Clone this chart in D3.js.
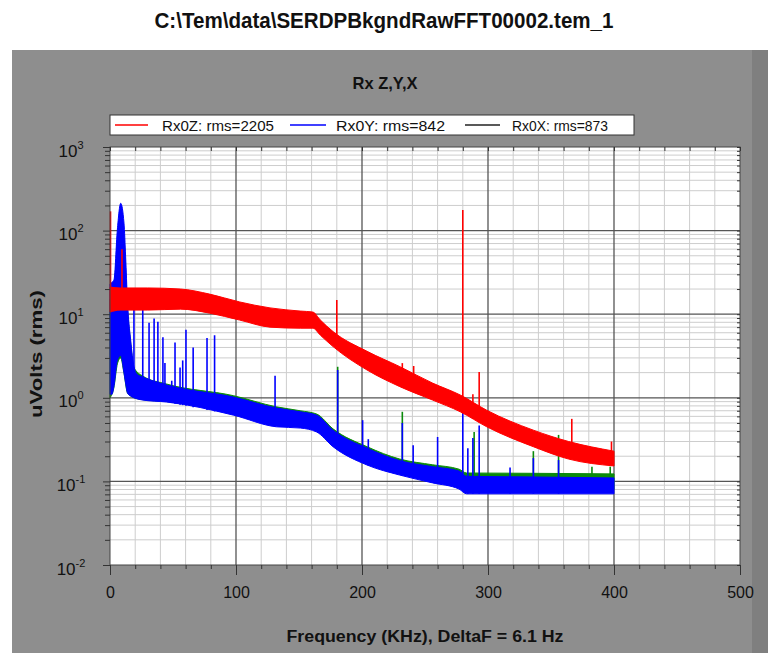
<!DOCTYPE html>
<html>
<head>
<meta charset="utf-8">
<script src="https://cdn.jsdelivr.net/npm/d3@7"></script>
<style>
  body { margin: 0; background: #ffffff; }
  svg { display: block; }
</style>
</head>
<body>
<svg id="chart" width="768" height="653"></svg>
<script>
// ---- Noise-floor bands: frequency (kHz), upper and lower edge (uVolts rms) ----
const zFreq = [0, 8, 30, 56, 79, 103, 127, 151, 161, 167, 177, 204, 230, 256, 278, 299, 336, 364, 400];
const zHigh = [21.1, 20.6, 20.6, 20.0, 17.4, 14.0, 11.9, 10.9, 10.6, 8.5, 6.2, 3.6, 2.36, 1.50, 1.08, 0.71, 0.41, 0.30, 0.23];
const zLow  = [10.6, 11.2, 11.2, 11.5, 10.3, 8.5, 7.0, 6.8, 6.8, 5.6, 4.1, 2.15, 1.36, 0.94, 0.68, 0.45, 0.26, 0.185, 0.153];

const yFreq = [0, 1.5, 3.2, 5.8, 8.5, 11.1, 12.4, 13.8, 16.4, 19, 21.7, 26, 45, 98, 132, 151, 164, 177, 204, 230, 256, 277, 283, 336, 400];
const yHigh = [23, 24, 26, 101, 212, 123, 49, 14.8, 4.9, 2.35, 1.9, 1.77, 1.42, 1.02, 0.755, 0.68, 0.62, 0.41, 0.25, 0.177, 0.15, 0.133, 0.115, 0.113, 0.11];
const yLow  = [1.1, 1.1, 1.4, 2.8, 3.2, 2.0, 1.5, 1.15, 1.05, 1.0, 0.97, 0.94, 0.89, 0.62, 0.45, 0.435, 0.39, 0.26, 0.157, 0.119, 0.096, 0.081, 0.071, 0.071, 0.071];

const xFreq = [0, 3, 6, 8.5, 11, 13.8, 16.4, 19, 26, 45, 98, 132, 151, 164, 177, 204, 230, 256, 277, 283, 336, 400];
const xHigh = [15, 20, 80, 150, 90, 12, 4.5, 2.3, 1.82, 1.46, 1.06, 0.78, 0.70, 0.64, 0.425, 0.26, 0.185, 0.158, 0.14, 0.126, 0.125, 0.123];
const xLow  = [1.0, 1.3, 2.6, 3.0, 2.0, 1.15, 1.05, 1.0, 0.95, 0.9, 0.65, 0.47, 0.45, 0.41, 0.27, 0.165, 0.125, 0.1, 0.088, 0.08, 0.08, 0.08];

// ---- Narrow-band spectral lines: frequency (kHz) and peak level ----
const zSpikeFreq = [0.4, 9.5, 180, 232, 241, 280, 288, 293, 366.5, 398];
const zSpikePeak = [170, 60, 14.8, 2.6, 2.4, 176, 1.1, 2.04, 0.56, 0.3];

const ySpikeFreq = [19, 26, 31, 35, 38, 42, 43.6, 49, 51.6, 55.6, 57.7, 60.3, 66, 77, 83, 131, 180.7, 200.5, 205, 232, 240.6, 260, 280, 284, 288, 293, 317.5, 336, 356];
const ySpikePeak = [11.4, 12.9, 7.9, 8.9, 8.1, 5.3, 2.6, 1.6, 4.6, 2.3, 2.8, 6.5, 4.0, 5.2, 5.6, 1.84, 2.15, 0.54, 0.32, 0.5, 0.27, 0.34, 0.89, 0.25, 0.33, 0.465, 0.147, 0.19, 0.18];

const xSpikeFreq = [180.7, 232, 289, 336, 356, 382.5, 397];
const xSpikePeak = [2.35, 0.68, 0.39, 0.23, 0.36, 0.15, 0.15];

// ---- Axis ticks and labels ----
const xTicks = [0, 100, 200, 300, 400, 500];
const yDecades = [0.01, 0.1, 1, 10, 100, 1000];
const yExponents = ["-2", "-1", "0", "1", "2", "3"];

const legendLabels = ["Rx0Z: rms=2205", "Rx0Y: rms=842", "Rx0X: rms=873"];

const FONT = "'Liberation Sans', Arial, Helvetica, sans-serif";
const svg = d3.select("#chart");

// Page frame: white title strip over a grey panel
svg.append("rect").attr("x", 0).attr("y", 0).attr("width", 768).attr("height", 653).attr("fill", "#ffffff");
svg.append("rect").attr("x", 12).attr("y", 50).attr("width", 756).attr("height", 603).attr("fill", "#8e8e8e");
svg.append("rect").attr("x", 752).attr("y", 50).attr("width", 16).attr("height", 603).attr("fill", "#7f7f7f");

svg.append("text")
  .attr("x", 384).attr("y", 28)
  .attr("text-anchor", "middle")
  .attr("font-family", FONT).attr("font-weight", "bold").attr("font-size", 22)
  .attr("textLength", 459).attr("lengthAdjust", "spacingAndGlyphs")
  .attr("fill", "#111")
  .text("C:\\Tem\\data\\SERDPBkgndRawFFT00002.tem_1");

svg.append("text")
  .attr("x", 385).attr("y", 89)
  .attr("text-anchor", "middle")
  .attr("font-family", FONT).attr("font-weight", "bold").attr("font-size", 17)
  .attr("textLength", 65).attr("lengthAdjust", "spacingAndGlyphs")
  .attr("fill", "#111")
  .text("Rx Z,Y,X");

// Plot area
const plotL = 110, plotR = 740, plotT = 147, plotB = 565;
const x = d3.scaleLinear().domain([0, 500]).range([plotL, plotR]);
const y = d3.scaleLog().domain([0.01, 1000]).range([plotB, plotT]);

svg.append("rect").attr("x", plotL).attr("y", plotT)
  .attr("width", plotR - plotL).attr("height", plotB - plotT).attr("fill", "#ffffff");

const minorX = d3.range(0, 501, 20);
const minorY = [];
yDecades.slice(0, -1).forEach(d => { for (let k = 2; k <= 9; k++) minorY.push(d * k); });

const grid = svg.append("g");
grid.selectAll("line.vx").data(minorX.filter(v => v % 100 !== 0)).join("line")
  .attr("x1", d => x(d)).attr("x2", d => x(d)).attr("y1", plotT).attr("y2", plotB)
  .attr("stroke", "#cdcdcd").attr("stroke-width", 1);
grid.selectAll("line.hy").data(minorY).join("line")
  .attr("x1", plotL).attr("x2", plotR).attr("y1", d => y(d)).attr("y2", d => y(d))
  .attr("stroke", "#cdcdcd").attr("stroke-width", 1);
grid.selectAll("line.vmaj").data(xTicks.slice(1, -1)).join("line")
  .attr("x1", d => x(d)).attr("x2", d => x(d)).attr("y1", plotT).attr("y2", plotB)
  .attr("stroke", "#555").attr("stroke-width", 1.3);
grid.selectAll("line.hmaj").data(yDecades.slice(1, -1)).join("line")
  .attr("x1", plotL).attr("x2", plotR).attr("y1", d => y(d)).attr("y2", d => y(d))
  .attr("stroke", "#555").attr("stroke-width", 1.3);

// Bands and spectral lines
function bandValue(freqs, vals, f) {
  const i = Math.max(1, d3.bisectLeft(freqs, f));
  const j = Math.min(i, freqs.length - 1);
  const f0 = freqs[j - 1], f1 = freqs[j];
  const t = f1 === f0 ? 0 : Math.max(0, Math.min(1, (f - f0) / (f1 - f0)));
  return Math.exp(Math.log(vals[j - 1]) * (1 - t) + Math.log(vals[j]) * t);
}

const series = [
  { freq: xFreq, hi: xHigh, lo: xLow, sf: xSpikeFreq, sp: xSpikePeak, color: "#0a8a0a" },
  { freq: yFreq, hi: yHigh, lo: yLow, sf: ySpikeFreq, sp: ySpikePeak, color: "#0000ff" },
  { freq: zFreq, hi: zHigh, lo: zLow, sf: zSpikeFreq, sp: zSpikePeak, color: "#ff0000" }
];

const plot = svg.append("g");
series.forEach(s => {
  const rows = s.freq.map((f, i) => ({ f, hi: s.hi[i], lo: s.lo[i] }));
  const area = d3.area().curve(d3.curveMonotoneX)
    .x(d => x(d.f)).y0(d => y(d.lo)).y1(d => y(d.hi));
  plot.append("path").datum(rows)
    .attr("d", area)
    .attr("fill", s.color).attr("stroke", s.color).attr("stroke-width", 1).attr("stroke-linejoin", "round");
  const spikes = s.sf.map((f, i) => ({ f, peak: s.sp[i], base: bandValue(s.freq, s.lo, f) }));
  plot.selectAll(null).data(spikes).join("line")
    .attr("x1", d => x(d.f)).attr("x2", d => x(d.f))
    .attr("y1", d => y(d.base)).attr("y2", d => y(d.peak))
    .attr("stroke", s.color).attr("stroke-width", 1.6);
});

// Frame
svg.append("rect").attr("x", plotL).attr("y", plotT)
  .attr("width", plotR - plotL).attr("height", plotB - plotT)
  .attr("fill", "none").attr("stroke", "#444").attr("stroke-width", 1);

// Axes
const axisStyle = g => { g.select(".domain").remove(); g.selectAll(".tick line").attr("stroke", "#333"); };

svg.append("g").attr("transform", `translate(0,${plotB})`)
  .call(d3.axisBottom(x).tickValues(minorX).tickSize(4).tickFormat(""))
  .call(axisStyle);
svg.append("g").attr("transform", `translate(0,${plotB})`)
  .call(d3.axisBottom(x).tickValues(xTicks).tickSize(10).tickPadding(12).tickFormat(d3.format("d")))
  .call(axisStyle)
  .call(g => g.selectAll(".tick text")
    .attr("font-family", FONT).attr("font-size", 16).attr("fill", "#111"));
svg.append("g").attr("transform", `translate(0,${plotT})`)
  .call(d3.axisBottom(x).tickValues(minorX).tickSize(4).tickFormat(""))
  .call(axisStyle);

svg.append("g").attr("transform", `translate(${plotL},0)`)
  .call(d3.axisLeft(y).tickValues(minorY).tickSize(5).tickFormat(""))
  .call(axisStyle);
const yMajor = svg.append("g").attr("transform", `translate(${plotL},0)`)
  .call(d3.axisLeft(y).tickValues(yDecades).tickSize(7).tickFormat(""))
  .call(axisStyle);
yMajor.selectAll(".tick").each(function (d, i) {
  const t = d3.select(this).append("text")
    .attr("x", 71 - plotL).attr("y", 9)
    .attr("text-anchor", "middle")
    .attr("font-family", FONT).attr("font-size", 17).attr("fill", "#111");
  t.append("tspan").text("10");
  t.append("tspan").attr("font-size", 11).attr("dy", -8).text(yExponents[i]);
});
svg.append("g").attr("transform", `translate(${plotR},0)`)
  .call(d3.axisLeft(y).tickValues(minorY.concat(yDecades)).tickSize(3).tickFormat(""))
  .call(axisStyle);

svg.append("text")
  .attr("x", 425).attr("y", 642)
  .attr("text-anchor", "middle")
  .attr("font-family", FONT).attr("font-weight", "bold").attr("font-size", 16)
  .attr("textLength", 277).attr("lengthAdjust", "spacingAndGlyphs")
  .attr("fill", "#111")
  .text("Frequency (KHz), DeltaF = 6.1 Hz");

svg.append("text")
  .attr("transform", "translate(42,354) rotate(-90)")
  .attr("text-anchor", "middle")
  .attr("font-family", FONT).attr("font-weight", "bold").attr("font-size", 16)
  .attr("textLength", 128).attr("lengthAdjust", "spacingAndGlyphs")
  .attr("fill", "#111")
  .text("uVolts (rms)");

// Legend
const legend = svg.append("g");
legend.append("rect").attr("x", 110).attr("y", 115).attr("width", 524).attr("height", 20)
  .attr("fill", "#ffffff").attr("stroke", "#333").attr("stroke-width", 1);
const legendItems = [
  { x0: 115, x1: 148, tx: 162, tw: 112, color: "#ff0000" },
  { x0: 290, x1: 326, tx: 336, tw: 109, color: "#0000ff" },
  { x0: 465, x1: 500, tx: 512, tw: 96, color: "#222222" }
];
legendItems.forEach((it, i) => {
  legend.append("line").attr("x1", it.x0).attr("x2", it.x1).attr("y1", 125).attr("y2", 125)
    .attr("stroke", it.color).attr("stroke-width", 1.5);
  legend.append("text").attr("x", it.tx).attr("y", 131)
    .attr("font-family", FONT).attr("font-size", 15).attr("fill", "#111")
    .attr("textLength", it.tw).attr("lengthAdjust", "spacingAndGlyphs")
    .text(legendLabels[i]);
});
</script>
</body>
</html>
